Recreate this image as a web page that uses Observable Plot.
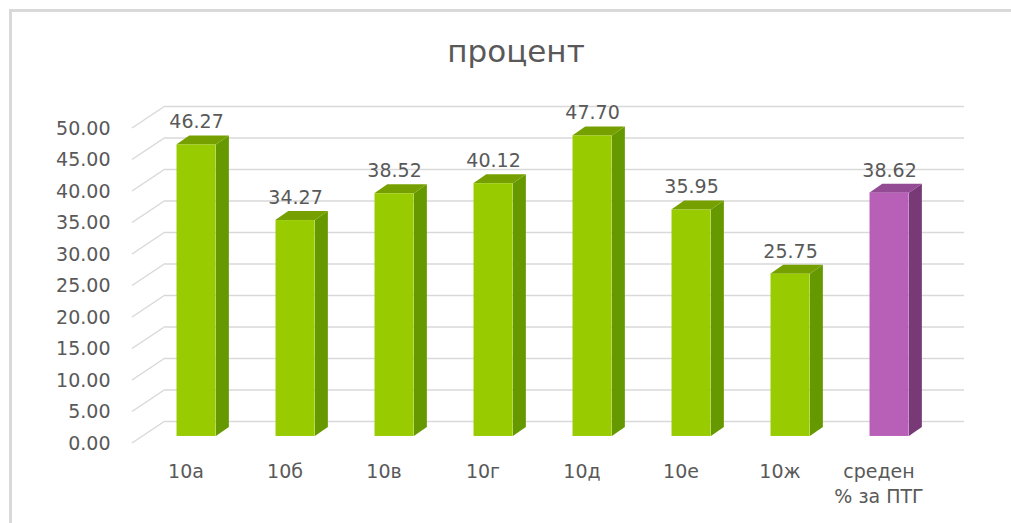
<!DOCTYPE html>
<html><head><meta charset="utf-8">
<script src="https://cdn.jsdelivr.net/npm/d3@7"></script>
<script src="https://cdn.jsdelivr.net/npm/@observablehq/plot@0.6"></script>
<style>
html,body{margin:0;padding:0;background:#fff;overflow:hidden;}
#wrap{position:relative;width:1011px;height:523px;overflow:hidden;font-family:"DejaVu Sans",sans-serif;}
#frame{position:absolute;left:9px;top:9px;width:1200px;height:700px;border-left:3px solid #d9d9d9;border-top:3px solid #d9d9d9;box-sizing:border-box;}
#title{position:absolute;left:0;width:1032px;top:36px;text-align:center;font-size:31px;color:#595959;line-height:1;}
#chart{position:absolute;left:0;top:0;}
</style></head><body>
<div id="wrap"><div id="frame"></div><div id="title">процент</div><div id="chart"></div></div>
<script>
// ---- data ----
const categories = ["10а", "10б", "10в", "10г", "10д", "10е", "10ж", "среден\n% за ПТГ"];
const values = [46.27, 34.27, 38.52, 40.12, 47.70, 35.95, 25.75, 38.62];
const seriesKind = ["class", "class", "class", "class", "class", "class", "class", "avg"];
const yTicks = [0, 5, 10, 15, 20, 25, 30, 35, 40, 45, 50];

const data = categories.map((c, i) => ({category: c, value: values[i], kind: seriesKind[i]}));

// ---- 3D styling ----
const WALL = {dx: -33, dy: 22};          // back wall -> front plane offset (px)
const BAR_F = 0.68;                      // depth fraction where bar fronts sit
const BAR_W = 0.4;                       // bar width as fraction of band
const DEPTH = {dx: 13, dy: -9};          // bar depth (px)
const palette = {
  class: {front: "#99cc00", side: "#669900", top: "#76a000"},
  avg:   {front: "#b85fb8", side: "#773a77", top: "#934b93"}
};
const GRID = "#d9d9d9";
const TEXT = "#595959";

function wallSlants(index, scales, values, dims) {
  const g = d3.create("svg:g").attr("stroke", GRID).attr("stroke-width", 1.5);
  const x0 = dims.marginLeft;
  for (const t of yTicks) {
    const yy = scales.y(t);
    g.append("line").attr("x1", x0).attr("y1", yy).attr("x2", x0 + WALL.dx).attr("y2", yy + WALL.dy);
  }
  return g.node();
}

function barDepth(index, scales, values, dims) {
  const g = d3.create("svg:g");
  const x = scales.x, y = scales.y;
  const bw = x.bandwidth();
  const w = bw * BAR_W;
  for (const d of data) {
    const cx = x(d.category) + bw / 2 + WALL.dx * BAR_F;
    const y0 = y(0) + WALL.dy * BAR_F;
    const y1 = y(d.value) + WALL.dy * BAR_F;
    const l = cx - w / 2, r = cx + w / 2;
    const c = palette[d.kind];
    g.append("polygon").attr("fill", c.side)
      .attr("points", [[r, y1], [r + DEPTH.dx, y1 + DEPTH.dy], [r + DEPTH.dx, y0 + DEPTH.dy], [r, y0]].join(" "));
    g.append("polygon").attr("fill", c.top)
      .attr("points", [[l, y1], [r, y1], [r + DEPTH.dx, y1 + DEPTH.dy], [l + DEPTH.dx, y1 + DEPTH.dy]].join(" "));
  }
  return g.node();
}

const W = 1011, H = 523;
const mLeft = 165, mRight = 47, mTop = 106, mBottom = 102;
const bandPx = (W - mLeft - mRight) / categories.length;
const inset = bandPx * (1 - BAR_W) / 2;

const chart = Plot.plot({
  width: W, height: H,
  marginLeft: mLeft, marginRight: mRight, marginTop: mTop, marginBottom: mBottom,
  style: {fontFamily: "DejaVu Sans, sans-serif", fontSize: "19px", color: TEXT, background: "transparent", overflow: "visible"},
  x: {type: "band", domain: categories, padding: 0},
  y: {domain: [0, 50]},
  color: {domain: ["class", "avg"], range: [palette.class.front, palette.avg.front]},
  marks: [
    Plot.ruleY(yTicks, {stroke: GRID, strokeWidth: 1.5}),
    wallSlants,
    barDepth,
    Plot.barY(data, {x: "category", y: "value", fill: "kind",
      insetLeft: inset, insetRight: inset, dx: WALL.dx * BAR_F, dy: WALL.dy * BAR_F}),
    Plot.text(data, {x: "category", y: "value", text: d => d.value.toFixed(2),
      dx: WALL.dx * BAR_F, dy: WALL.dy * BAR_F - 16.5, lineAnchor: "bottom", fontSize: 19, fill: TEXT}),
    Plot.axisY({ticks: yTicks, tickFormat: d => d.toFixed(2), tickSize: 0, tickPadding: 3,
      dx: -52, dy: WALL.dy, fontSize: 19, label: null}),
    Plot.axisX({tickSize: 0, tickPadding: 3, dx: WALL.dx, dy: 36, fontSize: 19, lineHeight: 1.3, label: null})
  ]
});
document.getElementById("chart").appendChild(chart);
</script>
</body></html>
